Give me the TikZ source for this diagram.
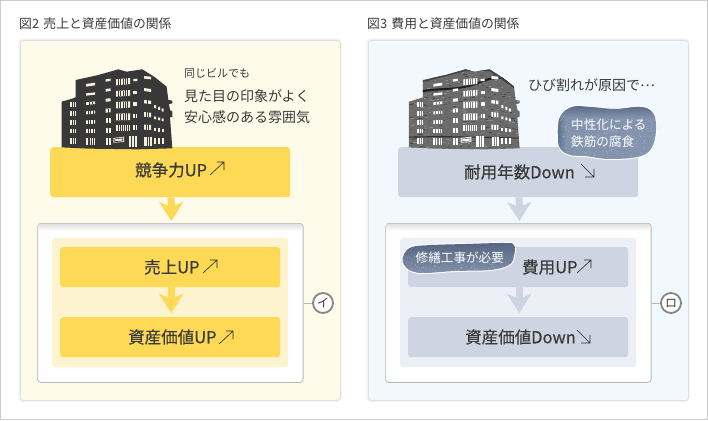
\documentclass[tikz,border=0pt]{standalone}
\usepackage{fontspec}
\setmainfont{Noto Sans CJK JP}
\newfontfamily\medfont[FakeBold=0.35]{Noto Sans CJK JP}
\usetikzlibrary{arrows.meta,shadings}
\definecolor{frameC}{HTML}{CCCCCC}
\definecolor{txt}{HTML}{3A3A3A}
\definecolor{yelPanel}{HTML}{FFFBEA}
\definecolor{yelInner}{HTML}{FDF3CF}
\definecolor{yelBox}{HTML}{FDD955}
\definecolor{bluPanel}{HTML}{F2F9FE}
\definecolor{bluInner}{HTML}{ECEFF5}
\definecolor{bluBox}{HTML}{CDD5E3}
\definecolor{bldg}{HTML}{383838}
\definecolor{winC}{HTML}{F4F0E0}
\definecolor{blobTop}{HTML}{56647F}
\definecolor{blobMid}{HTML}{8494AE}
\tikzset{
 panelbox/.style={rectangle,rounded corners=3pt,inner sep=0,anchor=north west,draw=#1},
 outerbox/.style={panelbox=#1,line width=.8pt},
 flatbox/.style={rectangle,rounded corners=3pt,inner sep=0,anchor=north west,fill=#1},
 whitebox/.style={rectangle,rounded corners=3pt,inner sep=0,anchor=north west,draw=black!28,line width=.8pt},
 fatarrow/.style={draw=#1,line width=7pt,-{Stealth[length=19pt,width=24pt,inset=5pt,fill=#1]}},
 boxtext/.style={font=\medfont\fontsize{16.5}{18}\selectfont,text=txt,inner sep=0,anchor=west},
 headtext/.style={font=\fontsize{12.8}{14}\selectfont,text=txt,inner sep=0,anchor=west},
 bodytext/.style={font=\fontsize{14}{16}\selectfont,text=txt,inner sep=0,anchor=west},
 smalltext/.style={font=\fontsize{11}{13}\selectfont,text=txt,inner sep=0,anchor=west},
 blobtext/.style={font=\fontsize{12.6}{14}\selectfont,text=white,inner sep=0,anchor=west},
 badge/.style={circle,draw=black!48,fill=white,line width=1.8pt,minimum size=20pt,inner sep=0,font=\fontsize{12}{12}\selectfont,text=txt},
 thinarrow/.style={draw=black!85,line width=.6pt},
 badgeline/.style={draw=black!28,line width=.8pt},
}
\newcommand{\uparr}[2]{\draw[thinarrow] (#1,#2+13) -- (#1+14,#2) (#1+7,#2) -- (#1+14,#2) -- (#1+14,#2+8);}
\newcommand{\dnarr}[2]{\draw[thinarrow] (#1,#2) -- (#1+13,#2+13) (#1+13,#2+5) -- (#1+13,#2+13) -- (#1+4,#2+13);}
\newcommand{\bwin}[6]{%
 \fill[fill=\winfill] (#1,#3+#5) -- (#2,#3) -- (#2,#4) -- (#1,#4+#5) -- cycle;
 \ifnum#6>0
 \foreach \k in {1,...,#6}{
  \pgfmathsetmacro{\xx}{#1+(#2-#1)*\k/(#6+1)}
  \pgfmathsetmacro{\yt}{#3+#5*(#2-\xx)/(#2-#1)}
  \pgfmathsetmacro{\yb}{#4+#5*(#2-\xx)/(#2-#1)}
  \draw[draw=\stripe,line width=.45pt] (\xx,\yt) -- (\xx,\yb);
 }\fi}
\newcommand{\bldgoutline}{(20,125) -- (45,118) -- (62,112) -- (62,60) -- (130,45) -- (190,28) -- (215,35) -- (262,28) -- (300,52) -- (335,80) -- (340,120) -- (352,122) -- (352,130) -- (342,132) -- (345,150) -- (352,155) -- (352,170) -- (345,172) -- (352,265) -- (250,268) -- (100,266) -- (20,262) -- cycle}
\newcommand{\windows}{%
 \foreach \a/\b in {127/142,153/168,180/194,207/220,234/252}{\bwin{45}{62}{\a}{\b}{0}{2}}
 \bwin{93}{120}{68}{76}{4}{0}
 \bwin{93}{120}{97}{104}{3}{0}
 \bwin{93}{120}{124}{132}{3}{2}
 \bwin{93}{120}{152}{161}{2}{3}
 \bwin{93}{120}{180}{191}{1}{3}
 \bwin{93}{120}{207}{220}{0}{3}
 \bwin{93}{120}{234}{254}{0}{4}
 \bwin{152}{167}{56}{63}{2}{0}
 \bwin{152}{167}{85}{93}{2}{0}
 \bwin{152}{167}{115}{124}{1}{0}
 \bwin{152}{167}{145}{157}{1}{1}
 \bwin{152}{167}{175}{188}{0}{1}
 \bwin{152}{167}{205}{218}{0}{1}
 \bwin{152}{167}{234}{254}{0}{1}
 \bwin{183}{225}{54}{72}{4}{5}
 \bwin{183}{225}{90}{107}{3}{5}
 \bwin{183}{225}{124}{143}{2}{5}
 \bwin{183}{225}{160}{180}{1}{5}
 \bwin{183}{225}{196}{213}{0}{6}
 \fill[fill=\winfill] (175,234) -- (207,230) -- (207,246) -- (175,248) -- cycle;
 \draw[draw=\stripe,line width=.7pt] (179,237) -- (203,234) -- (203,243) -- (179,245) -- cycle;
 \bwin{222}{246}{228}{260}{0}{2}
 \bwin{235}{247}{56}{63}{1}{0}
 \bwin{235}{247}{92}{102}{0}{0}
 \bwin{235}{247}{125}{137}{0}{0}
 \bwin{235}{247}{162}{175}{0}{1}
 \bwin{235}{247}{195}{210}{0}{1}
 \bwin{267}{288}{50}{58}{-2}{0}
 \bwin{267}{288}{87}{96}{-3}{0}
 \bwin{267}{288}{122}{132}{-2}{1}
 \bwin{267}{288}{158}{172}{-2}{2}
 \bwin{267}{288}{195}{210}{-1}{2}
 \bwin{268}{290}{232}{258}{0}{2}
 \foreach \x/\s in {297/0,309/1,320/2}{
  \bwin{\x}{\x+6}{136+\s*5}{145+\s*5}{-1}{0}
  \bwin{\x}{\x+6}{170+\s*3}{178+\s*3}{-1}{0}
  \bwin{\x}{\x+6}{203+\s*2}{213+\s*2}{0}{0}
  \bwin{\x}{\x+6}{235}{252}{0}{0}
 }}
\newcommand{\blobApath}{plot[smooth cycle,tension=.65] coordinates {(560,117) (572,107) (590,107) (615,109) (640,107) (652,112) (656,125) (653,145) (641,156) (610,159) (585,156) (570,155) (560,148) (558,135)}}
\newcommand{\blobBpath}{plot[smooth cycle,tension=.6] coordinates {(404,254) (412,247) (432,245) (465,244) (505,243) (514,245) (514,256) (509,265) (490,270) (455,271) (425,273) (411,271) (403,263)}}
\pgfmathsetseed{4242}
\begin{document}
\begin{tikzpicture}[x=1pt,y=-1pt]
\useasboundingbox (0,0) rectangle (708,420);
\fill[white] (0,0) rectangle (708,420);
\draw[frameC,line width=1pt] (.5,.5) rectangle (707.5,419.5);

\foreach \ox in {20,368}{
 \fill[black!5,rounded corners=4pt] (\ox-1.5,40-1.5) rectangle (\ox+321.5,400+2);
}
\node[outerbox=black!12,fill=yelPanel,minimum width=320pt,minimum height=360pt] (panelL) at (20,40) {};
\node[outerbox=black!12,fill=bluPanel,minimum width=320pt,minimum height=360pt] (panelR) at (368,40) {};

\node[headtext] (titleL) at (19,24) {図2\hspace{1.5pt} 売上と資産価値の関係};
\node[headtext] (titleR) at (367,24) {図3\hspace{1.5pt} 費用と資産価値の関係};

% ---------- left panel
\node[flatbox=yelBox,minimum width=240pt,minimum height=50pt] (kyoso) at (50,147) {};
\node[whitebox,fill=white,minimum width=265.4pt,minimum height=159pt] (whiteL) at (37.3,223) {};
\shade[top color=black!12,bottom color=white,rounded corners=2pt] (38,223.6) rectangle (302,231);
\node[flatbox=yelInner,minimum width=236pt,minimum height=129pt] (innerL) at (52,238) {};
\node[flatbox=yelBox,minimum width=220pt,minimum height=40pt] (uriage) at (60,247) {};
\node[flatbox=yelBox,minimum width=220pt,minimum height=40pt] (shisanL) at (60,317) {};
\path[fatarrow=yelBox] ([xshift=1pt]kyoso.south) -- ([xshift=1pt,yshift=2pt]whiteL.north);
\path[fatarrow=yelBox] ([xshift=1pt]uriage.south) -- ([xshift=1pt,yshift=4pt]shisanL.north);
\node[badge] (badgeL) at (323,303) {イ};
\draw[badgeline] (whiteL.east |- badgeL) -- (badgeL.west);

\begin{scope}[shift={(55,60)},x=.33333pt,y=-.33333pt]
 \def\winfill{winC}\def\stripe{bldg}
 \fill[bldg] \bldgoutline;
 \windows
\end{scope}

\node[smalltext] (same) at (184,73) {同じビルでも};
\node[bodytext] (lookA) at (184,96) {見た目の印象がよく};
\node[bodytext] (lookB) at (184,117) {安心感のある雰囲気};
\node[boxtext] (tKyoso) at (135,170) {競争力UP};
\uparr{210}{162}
\node[boxtext] (tUriage) at (144,267) {売上UP};
\uparr{203}{260}
\node[boxtext] (tShisanL) at (128,337) {資産価値UP};
\uparr{219}{331}

% ---------- right panel
\node[flatbox=bluBox,minimum width=240pt,minimum height=50pt] (taiyo) at (398,147) {};
\node[whitebox,fill=white,minimum width=265.4pt,minimum height=159pt] (whiteR) at (385.3,223) {};
\shade[top color=black!12,bottom color=white,rounded corners=2pt] (386,223.6) rectangle (650,231);
\node[flatbox=bluInner,minimum width=236pt,minimum height=129pt] (innerR) at (400,238) {};
\node[flatbox=bluBox,minimum width=220pt,minimum height=40pt] (hiyo) at (408,247) {};
\node[flatbox=bluBox,minimum width=220pt,minimum height=40pt] (shisanR) at (408,317) {};
\path[fatarrow=bluBox] ([xshift=1pt]taiyo.south) -- ([xshift=1pt,yshift=2pt]whiteR.north);
\path[fatarrow=bluBox] ([xshift=1pt]hiyo.south) -- ([xshift=1pt,yshift=4pt]shisanR.north);
\node[badge] (badgeR) at (671,303) {ロ};
\draw[badgeline] (whiteR.east |- badgeR) -- (badgeR.west);

\begin{scope}[shift={(402.3,60)},x=.33333pt,y=-.33333pt]
 \def\winfill{white}\def\stripe{black!50}
 \begin{scope}
  \clip \bldgoutline;
  \fill[black!58] (0,0) rectangle (375,285);
  \foreach \i in {1,...,700}{
   \pgfmathsetmacro{\px}{20+rnd*335}
   \pgfmathsetmacro{\py}{25+rnd*245}
   \pgfmathsetmacro{\sh}{int(44+rnd*30)}
   \fill[black!\sh] (\px,\py) rectangle +(3+rnd*7,3);
  }
  \fill[black!88] (62,97) .. controls (110,88) and (150,92) .. (195,82) .. controls (235,74) and (255,56) .. (290,56) .. controls (310,58) and (325,72) .. (340,84) -- (340,78) .. controls (320,64) and (310,52) .. (285,50) .. controls (250,52) and (230,68) .. (190,77) .. controls (150,86) and (110,82) .. (62,90) -- cycle;
  \fill[black!82] (20,230) .. controls (100,227) and (200,229) .. (355,233) -- (355,236) .. controls (200,232) and (100,231) .. (20,233) -- cycle;
  \fill[black!75] (62,62) -- (190,28) -- (262,28) -- (340,82) -- (337,86) -- (262,33) -- (190,33) -- (62,66) -- cycle;
 \end{scope}
 \windows
\end{scope}

\node[bodytext] (crack) at (528,85) {ひび割れが原因で\raisebox{4pt}{…}};
\node[boxtext] (tTaiyo) at (464,172) {耐用年数Down};
\dnarr{581}{164}
\node[boxtext] (tHiyo) at (522,267) {費用UP};
\uparr{577}{260}
\node[boxtext] (tShisanR) at (465,337) {資産価値Down};
\dnarr{577}{330}

% callout blobs
\begin{scope}
 \draw[white,line width=2pt] \blobApath;
 \begin{scope}
  \clip \blobApath;
  \fill[blobMid] (555,104) rectangle (660,162);
  \shade[top color=blobTop,bottom color=blobMid] (555,104) rectangle (660,118);
  \shade[left color=blobTop,right color=blobMid] (555,118) rectangle (566,162);
  \foreach \i in {1,...,220}{
   \pgfmathsetmacro{\px}{556+rnd*100}
   \pgfmathsetmacro{\py}{118+rnd*42}
   \pgfmathsetmacro{\sh}{int(10+rnd*15)}
   \fill[white,opacity=.\sh] (\px,\py) rectangle +(1,1);
  }
 \end{scope}
 \draw[white,line width=2pt] \blobBpath;
 \begin{scope}
  \clip \blobBpath;
  \shade[top color=blobTop,bottom color=blobMid] (400,242) rectangle (518,275);
  \foreach \i in {1,...,160}{
   \pgfmathsetmacro{\px}{402+rnd*112}
   \pgfmathsetmacro{\py}{256+rnd*18}
   \pgfmathsetmacro{\sh}{int(10+rnd*15)}
   \fill[white,opacity=.\sh] (\px,\py) rectangle +(1,1);
  }
 \end{scope}
\end{scope}
\node[blobtext] (corrA) at (571,125) {中性化による};
\node[blobtext] (corrB) at (571,142) {鉄筋の腐食};
\node[blobtext] (repair) at (415.5,258) {修繕工事が必要};
\end{tikzpicture}
\end{document}
